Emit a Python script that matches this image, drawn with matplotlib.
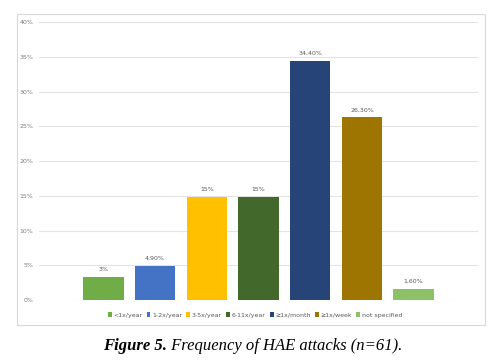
import matplotlib.pyplot as plt
from matplotlib.patches import Rectangle

categories = ['<1x/year', '1-2x/year', '3-5x/year', '6-11x/year', '\u22651x/month', '\u22651x/week', 'not specified']
values = [3.3, 4.9, 14.8, 14.8, 34.4, 26.3, 1.6]
value_labels = ['3%', '4,90%', '15%', '15%', '34,40%', '26,30%', '1,60%']
colors = ['#70AD47', '#4472C4', '#FFC000', '#43682B', '#264478', '#9E7500', '#8CC168']
yticks = [0, 5, 10, 15, 20, 25, 30, 35, 40]

fig = plt.figure(figsize=(5, 3.6), dpi=100)
fig.patches.append(Rectangle((0.034, 0.097), 0.936, 0.864, transform=fig.transFigure,
                             fill=False, edgecolor='#d9d9d9', linewidth=0.8))

ax = fig.add_axes([0.078, 0.1667, 0.878, 0.772])
handles = []
for i, v in enumerate(values):
    b = ax.bar(i, v, width=0.78, color=colors[i], label=categories[i], zorder=3)
    handles.append(b)
    ax.text(i, v + 0.7, value_labels[i], ha='center', va='bottom', fontsize=4.5, color='#595959')

ax.set_xlim(-1.245, 7.245)
ax.set_ylim(0, 40)
ax.set_yticks(yticks)
ax.set_yticklabels([f'{t}%' for t in yticks], fontsize=4.5, color='#7f7f7f')
ax.set_xticks([])
ax.tick_params(axis='y', length=0, pad=4)
for s in ax.spines.values():
    s.set_visible(False)
ax.grid(axis='y', color='#e3e3e3', linewidth=0.8, zorder=0)

fig.legend(handles=handles, loc='center', bbox_to_anchor=(0.51, 0.125), ncol=7, frameon=False,
           fontsize=4.5, handlelength=0.6, handleheight=0.7, handletextpad=0.25, columnspacing=0.7,
           labelcolor='#595959')

t1 = fig.text(0.206, 0.028, 'Figure 5.', fontsize=12, fontweight='bold', fontstyle='italic',
              family='Liberation Serif', ha='left', va='baseline')
ax.annotate(' Frequency of HAE attacks (n=61).', xy=(1, 0), xycoords=t1, fontsize=12,
            fontstyle='italic', family='Liberation Serif', ha='left', va='bottom')

fig.savefig('out.png', dpi=100)
